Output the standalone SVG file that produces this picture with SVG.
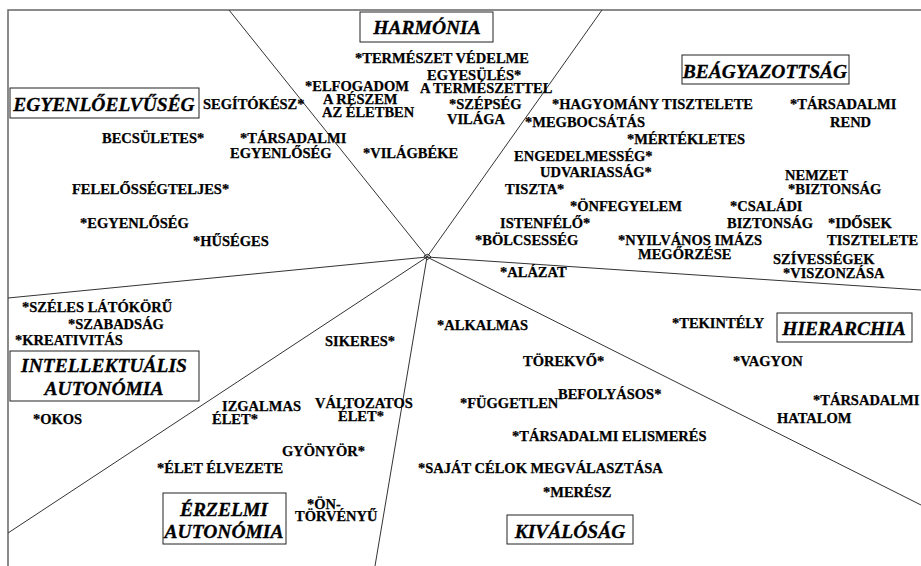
<svg xmlns="http://www.w3.org/2000/svg" width="921" height="566" viewBox="0 0 921 566">
<style>
.v{font-family:"Liberation Serif","Times New Roman",serif;font-weight:700;font-size:14.5px;fill:#000;stroke:#000;stroke-width:0.25}
.c{font-family:"Liberation Serif","Times New Roman",serif;font-weight:700;font-style:italic;font-size:19.5px;fill:#000;stroke:#000;stroke-width:0.3;text-anchor:middle}
.box{fill:#fff;stroke:#222;stroke-width:1}
.ln{stroke:#333;stroke-width:1;fill:none}
.fr{stroke:#666;stroke-width:1.5;fill:none}
</style>
<rect width="921" height="566" fill="#fff"/>
<g id="frame"><path class="fr" d="M8,566 V10 H921"/></g>
<g id="connectors">
<line class="ln" x1="427" y1="257" x2="229" y2="10"/>
<line class="ln" x1="427" y1="257" x2="602" y2="10"/>
<line class="ln" x1="427" y1="257" x2="8" y2="298"/>
<line class="ln" x1="427" y1="257" x2="921" y2="290"/>
<line class="ln" x1="427" y1="257" x2="8" y2="533"/>
<line class="ln" x1="427" y1="257" x2="375" y2="566"/>
<line class="ln" x1="427" y1="257" x2="921" y2="505"/>
<path class="ln" d="M424,256 L428,254 L431,257 L427,260 Z"/>
</g>
<g id="harmonia"><rect class="box" x="360" y="12" width="133" height="30"/><text class="c" x="427" y="34">HARMÓNIA</text></g>
<g id="egyenloelvuseg"><rect class="box" x="10" y="88" width="189" height="30"/><text class="c" x="104" y="111">EGYENLŐELVŰSÉG</text></g>
<g id="beagyazottsag"><rect class="box" x="682" y="55" width="167" height="29"/><text class="c" x="765" y="78">BEÁGYAZOTTSÁG</text></g>
<g id="hierarchia"><rect class="box" x="777" y="313" width="135" height="29"/><text class="c" x="844" y="335">HIERARCHIA</text></g>
<g id="intellektualis"><rect class="box" x="10" y="351" width="189" height="50"/><text class="c" x="104" y="372">INTELLEKTUÁLIS</text><text class="c" x="104" y="395">AUTONÓMIA</text></g>
<g id="erzelmi"><rect class="box" x="163" y="493" width="123" height="51"/><text class="c" x="224" y="516">ÉRZELMI</text><text class="c" x="224" y="538">AUTONÓMIA</text></g>
<g id="kivalosag"><rect class="box" x="507" y="515" width="126" height="29"/><text class="c" x="570" y="538">KIVÁLÓSÁG</text></g>

<g id="termeszet-vedelme"><text class="v" x="355" y="63">*TERMÉSZET VÉDELME</text></g>
<g id="egyesules"><text class="v" x="427" y="80">EGYESÜLÉS*</text><text class="v" x="420" y="93">A TERMÉSZETTEL</text></g>
<g id="elfogadom"><text class="v" x="305" y="91">*ELFOGADOM</text><text class="v" x="323" y="104">A RÉSZEM</text><text class="v" x="322" y="117">AZ ÉLETBEN</text></g>
<g id="szepseg"><text class="v" x="449" y="109">*SZÉPSÉG</text><text class="v" x="447" y="124">VILÁGA</text></g>
<g id="segitokesz"><text class="v" x="203" y="109">SEGÍTÓKÉSZ*</text></g>
<g id="becsuletes"><text class="v" x="102" y="143">BECSÜLETES*</text></g>
<g id="tarsadalmi-egyenloseg"><text class="v" x="240" y="143">*TÁRSADALMI</text><text class="v" x="230" y="158">EGYENLŐSÉG</text></g>
<g id="vilagbeke"><text class="v" x="363" y="158">*VILÁGBÉKE</text></g>
<g id="hagyomany"><text class="v" x="552" y="109">*HAGYOMÁNY TISZTELETE</text></g>
<g id="megbocsatas"><text class="v" x="525" y="127">*MEGBOCSÁTÁS</text></g>
<g id="mertekletes"><text class="v" x="627" y="144">*MÉRTÉKLETES</text></g>
<g id="engedelmesseg"><text class="v" x="514" y="161">ENGEDELMESSÉG*</text></g>
<g id="udvariassag"><text class="v" x="540" y="177">UDVARIASSÁG*</text></g>
<g id="tiszta"><text class="v" x="505" y="194">TISZTA*</text></g>
<g id="onfegyelem"><text class="v" x="570" y="211">*ÖNFEGYELEM</text></g>
<g id="istenfelo"><text class="v" x="500" y="228">ISTENFÉLŐ*</text></g>
<g id="bolcsesseg"><text class="v" x="475" y="245">*BÖLCSESSÉG</text></g>
<g id="alazat"><text class="v" x="500" y="277">*ALÁZAT</text></g>
<g id="tarsadalmi-rend"><text class="v" x="790" y="109">*TÁRSADALMI</text><text class="v" x="830" y="127">REND</text></g>
<g id="nemzet-biztonsag"><text class="v" x="785" y="180">NEMZET</text><text class="v" x="788" y="194">*BIZTONSÁG</text></g>
<g id="csaladi-biztonsag"><text class="v" x="730" y="211">*CSALÁDI</text><text class="v" x="727" y="228">BIZTONSÁG</text></g>
<g id="idosek"><text class="v" x="828" y="228">*IDŐSEK</text><text class="v" x="827" y="245">TISZTELETE</text></g>
<g id="nyilvanos-imazs"><text class="v" x="618" y="245">*NYILVÁNOS IMÁZS</text><text class="v" x="638" y="259">MEGŐRZÉSE</text></g>
<g id="szivessegek"><text class="v" x="773" y="264">SZÍVESSÉGEK</text><text class="v" x="783" y="278">*VISZONZÁSA</text></g>
<g id="felelossegteljes"><text class="v" x="72" y="194">FELELŐSSÉGTELJES*</text></g>
<g id="egyenloseg"><text class="v" x="80" y="228">*EGYENLŐSÉG</text></g>
<g id="huseges"><text class="v" x="193" y="246">*HŰSÉGES</text></g>
<g id="szeles-latokoru"><text class="v" x="22" y="312">*SZÉLES LÁTÓKÖRŰ</text></g>
<g id="szabadsag"><text class="v" x="68" y="329">*SZABADSÁG</text></g>
<g id="kreativitas"><text class="v" x="15" y="345">*KREATIVITÁS</text></g>
<g id="alkalmas"><text class="v" x="437" y="330">*ALKALMAS</text></g>
<g id="sikeres"><text class="v" x="325" y="346">SIKERES*</text></g>
<g id="torekvo"><text class="v" x="523" y="366">TÖREKVŐ*</text></g>
<g id="tekintely"><text class="v" x="672" y="328">*TEKINTÉLY</text></g>
<g id="vagyon"><text class="v" x="733" y="366">*VAGYON</text></g>
<g id="tarsadalmi-hatalom"><text class="v" x="813" y="405">*TÁRSADALMI</text><text class="v" x="777" y="423">HATALOM</text></g>
<g id="okos"><text class="v" x="33" y="424">*OKOS</text></g>
<g id="izgalmas-elet"><text class="v" x="222" y="411">IZGALMAS</text><text class="v" x="212" y="424">ÉLET*</text></g>
<g id="valtozatos-elet"><text class="v" x="315" y="408">VÁLTOZATOS</text><text class="v" x="338" y="421">ÉLET*</text></g>
<g id="gyonyor"><text class="v" x="282" y="456">GYÖNYÖR*</text></g>
<g id="elet-elvezete"><text class="v" x="157" y="473">*ÉLET ÉLVEZETE</text></g>
<g id="ontorvenyu"><text class="v" x="307" y="509">*ÖN-</text><text class="v" x="295" y="521">TÖRVÉNYŰ</text></g>
<g id="fuggetlen"><text class="v" x="460" y="408">*FÜGGETLEN</text></g>
<g id="befolyasos"><text class="v" x="558" y="399">BEFOLYÁSOS*</text></g>
<g id="tarsadalmi-elismeres"><text class="v" x="512" y="441">*TÁRSADALMI ELISMERÉS</text></g>
<g id="sajat-celok"><text class="v" x="418" y="473">*SAJÁT CÉLOK MEGVÁLASZTÁSA</text></g>
<g id="meresz"><text class="v" x="543" y="497">*MERÉSZ</text></g>
</svg>
